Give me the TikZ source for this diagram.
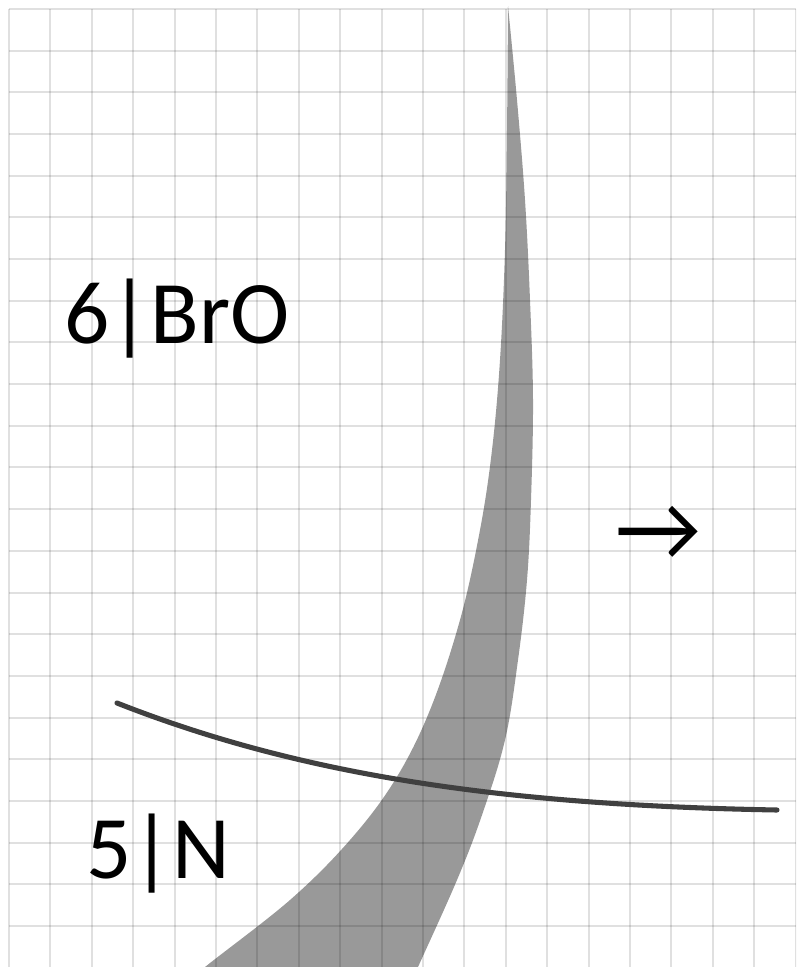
\documentclass[tikz,border=0pt]{standalone}
\usepackage{fontspec}
\setmainfont{Carlito}
\begin{document}
\begin{tikzpicture}[x=0.75pt,y=-0.75pt,
  gridline/.style={line width=1.5pt,black,opacity=0.12},
  hornfill/.style={fill=black!40},
  curveline/.style={line width=3.8pt,black!75,line cap=round},
  bigtext/.style={inner sep=0pt,anchor=base west,font=\fontsize{67}{76}\selectfont}]
\useasboundingbox (0,0) rectangle (796,967);
\begin{scope}
\clip (0,0) rectangle (796,967);
% horn shape
\fill[hornfill] plot[smooth,tension=0.6] coordinates {(508,6) (517,100) (525,200) (530,300) (533,400) (531,500) (527,580) (518,660) (505,740) (482,815) (457,880) (418,967) (412,980)}
  -- plot[smooth,tension=0.6] coordinates {(192,980) (205,967) (290,900) (350,840) (395,780) (430,710) (460,620) (480,530) (492,450) (500,360) (505,250) (507,130) (508,6)} -- cycle;
% grid
\foreach \i in {0,...,19} \draw[gridline] ({9+41.4*\i},9) -- ({9+41.4*\i},967);
\foreach \j in {0,...,22} \draw[gridline] (9,{9+41.68*\j}) -- (796,{9+41.68*\j});
\end{scope}
% dark curve
\coordinate (cs) at (117,703);
\coordinate (ce) at (777,810);
\draw[curveline] (cs) .. controls (300,775) and (500,805) .. (ce);
% labels
\node[bigtext] (lab6) at (64,343) {6|BrO};
\node[bigtext] (lab5) at (86,878) {5|N};
\node[bigtext,font=\fontsize{71}{80}\selectfont] (arr) at (615,560) {→};
\end{tikzpicture}
\end{document}
